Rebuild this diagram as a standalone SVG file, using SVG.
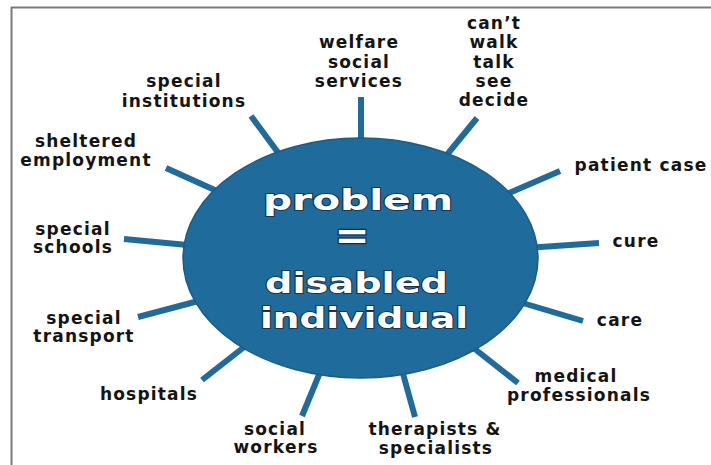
<svg xmlns="http://www.w3.org/2000/svg" width="711" height="465" viewBox="0 0 711 465">
<style>
.lbl{font-family:"DejaVu Sans",Verdana,sans-serif;font-weight:bold;font-size:17px;letter-spacing:1.2px;fill:#141414;text-anchor:middle}
.spoke{stroke:#1f6b9b;stroke-width:6;stroke-linecap:butt;fill:none}
.ctr{font-family:"DejaVu Sans",Verdana,sans-serif;font-weight:bold;font-size:42px;fill:#ffffff;stroke:#0f2d4a;stroke-width:2.5;paint-order:stroke;text-anchor:middle}
.frame{stroke:#7a7a7a;stroke-width:2;fill:none}
</style>
<rect x="0" y="0" width="711" height="465" fill="#ffffff"/>
<g id="frame">
<line class="frame" x1="11" y1="7.5" x2="711" y2="7.5"/>
<line class="frame" x1="11.5" y1="7" x2="11.5" y2="465"/>
</g>
<g id="connectors">
<line class="spoke" x1="361" y1="97" x2="361" y2="150"/>
<line class="spoke" x1="477" y1="118" x2="441" y2="162"/>
<line class="spoke" x1="560" y1="171" x2="500" y2="197"/>
<line class="spoke" x1="599" y1="243" x2="526" y2="248"/>
<line class="spoke" x1="583" y1="321" x2="516" y2="301"/>
<line class="spoke" x1="518" y1="383" x2="471" y2="346"/>
<line class="spoke" x1="415" y1="417" x2="402" y2="370"/>
<line class="spoke" x1="302" y1="416" x2="321" y2="370"/>
<line class="spoke" x1="202" y1="380" x2="248" y2="344"/>
<line class="spoke" x1="138" y1="317" x2="206" y2="299"/>
<line class="spoke" x1="124" y1="239" x2="198" y2="246"/>
<line class="spoke" x1="166" y1="168" x2="228" y2="196"/>
<line class="spoke" x1="251" y1="116" x2="285" y2="162"/>
</g>
<g id="center">
<ellipse cx="360.5" cy="258" rx="177.5" ry="120" fill="#1f6b9b" stroke="#1a5d88" stroke-width="1.5"/>
<text class="ctr" transform="translate(358,210) scale(1,0.67)" textLength="190" lengthAdjust="spacingAndGlyphs">problem</text>
<text class="ctr" transform="translate(352,248) scale(1,0.9)">=</text>
<text class="ctr" transform="translate(356.5,293) scale(1,0.67)" textLength="183" lengthAdjust="spacingAndGlyphs">disabled</text>
<text class="ctr" transform="translate(364,328) scale(1,0.67)" textLength="208" lengthAdjust="spacingAndGlyphs">individual</text>
</g>
<g id="n-welfare">
<text class="lbl" x="359" y="48">welfare</text>
<text class="lbl" x="359" y="67.5">social</text>
<text class="lbl" x="359" y="87">services</text>
</g>
<g id="n-cant">
<text class="lbl" x="494" y="29">can’t</text>
<text class="lbl" x="494" y="48">walk</text>
<text class="lbl" x="494" y="67.5">talk</text>
<text class="lbl" x="494" y="86.5">see</text>
<text class="lbl" x="494" y="106">decide</text>
</g>
<g id="n-patient">
<text class="lbl" x="641" y="171">patient case</text>
</g>
<g id="n-cure">
<text class="lbl" x="636" y="246.5">cure</text>
</g>
<g id="n-care">
<text class="lbl" x="620" y="326">care</text>
</g>
<g id="n-medical">
<text class="lbl" x="576" y="382">medical</text>
<text class="lbl" x="579" y="400.5">professionals</text>
</g>
<g id="n-therapists">
<text class="lbl" x="435" y="435">therapists &amp;</text>
<text class="lbl" x="436" y="453.5">specialists</text>
</g>
<g id="n-social">
<text class="lbl" x="275" y="435">social</text>
<text class="lbl" x="276" y="453">workers</text>
</g>
<g id="n-hospitals">
<text class="lbl" x="149" y="400">hospitals</text>
</g>
<g id="n-transport">
<text class="lbl" x="84" y="323.5">special</text>
<text class="lbl" x="84" y="342">transport</text>
</g>
<g id="n-schools">
<text class="lbl" x="73" y="234.5">special</text>
<text class="lbl" x="73" y="253">schools</text>
</g>
<g id="n-sheltered">
<text class="lbl" x="86" y="146.5">sheltered</text>
<text class="lbl" x="86" y="165.5">employment</text>
</g>
<g id="n-institutions">
<text class="lbl" x="184" y="87">special</text>
<text class="lbl" x="184" y="106.5">institutions</text>
</g>
</svg>
